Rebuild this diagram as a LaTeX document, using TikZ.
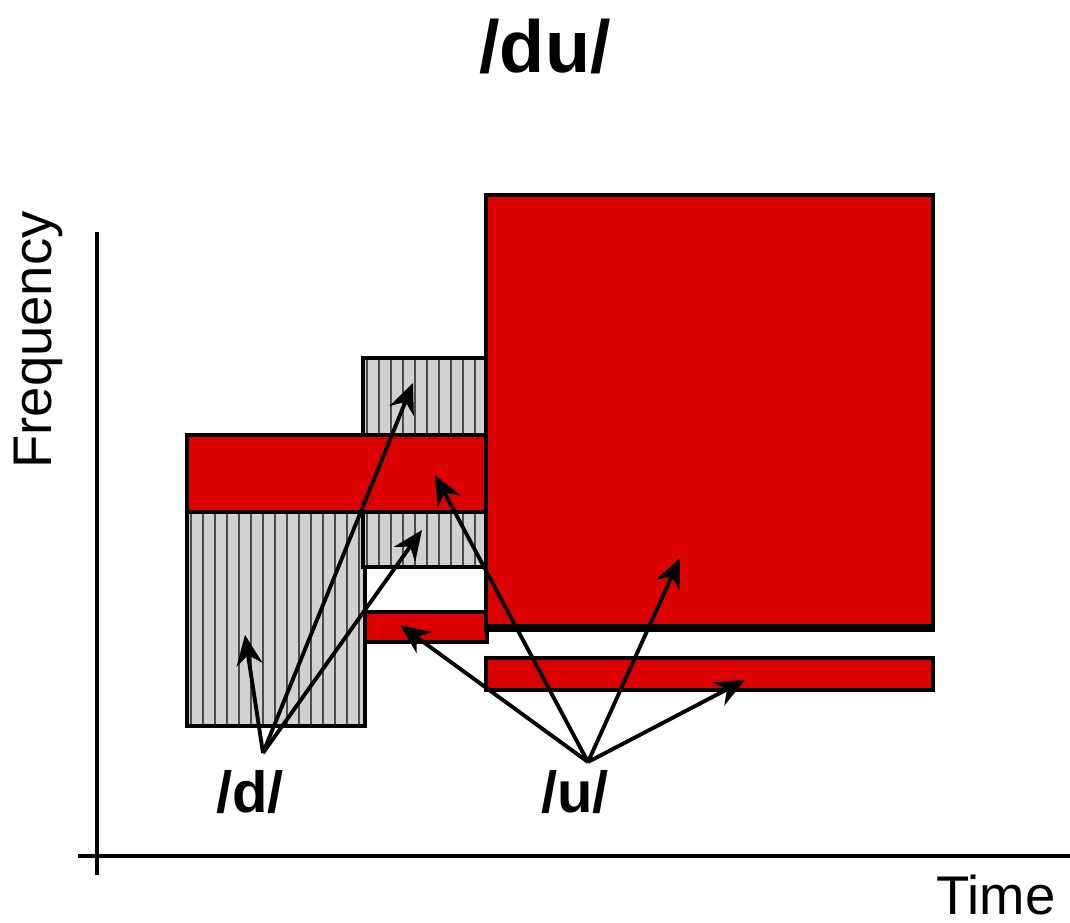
\documentclass[tikz,border=0pt]{standalone}
\usepackage{fontspec}
\setmainfont{Liberation Sans}
\usetikzlibrary{arrows.meta}
\definecolor{vowelred}{RGB}{221,0,0}
\tikzset{
  redbox/.style={draw=black, line width=1.4pt, fill=vowelred},
  hatchbox/.style={draw=black, line width=1.4pt},
  pointer/.style={line width=1.1pt, -{Stealth[length=3mm,width=2.6mm]}},
  axis/.style={line width=1.2pt},
  phon/.style={font=\fontsize{16.5}{18}\selectfont\bfseries}
}
% hatched box: lower left x, y, upper right x, y
\newcommand{\hatchrect}[4]{%
  \begin{scope}
    \clip (#1,#2) rectangle (#3,#4);
    \fill[black!18] (#1,#2) rectangle (#3,#4);
    \pgfmathsetmacro{\hnext}{#1+0.12}
    \foreach \hx in {#1,\hnext,...,#3}
      \draw[black!70, line width=0.7pt] (\hx+0.04,#2) -- (\hx+0.04,#4);
  \end{scope}
  \draw[hatchbox] (#1,#2) rectangle (#3,#4);}
\begin{document}
\begin{tikzpicture}
\useasboundingbox (0,0) rectangle (10.70,9.23);
% axes
\draw[axis] (0.97,6.91) -- (0.97,0.48);
\draw[axis] (0.78,0.67) -- (10.70,0.67);
\node[rotate=90, font=\fontsize{15.5}{17}\selectfont] (freq) at (0.38,5.83) {Frequency};
\node[font=\fontsize{15.5}{17}\selectfont] (time) at (9.96,0.28) {Time};
\node[font=\fontsize{21}{24}\selectfont\bfseries] (title) at (5.45,8.76) {/du/};

% /d/ portions
\hatchrect{1.87}{1.97}{3.65}{4.11}
\hatchrect{3.63}{4.88}{4.86}{5.65}
\hatchrect{3.63}{3.56}{4.86}{4.11}
\draw[line width=1.4pt, fill=white] (3.65,3.11) rectangle (4.86,3.56);

% /u/ portions
\draw[redbox] (1.87,4.11) rectangle (4.86,4.88);
\draw[redbox] (3.65,2.81) rectangle (4.87,3.11);
\draw[redbox] (4.86,2.93) rectangle (9.33,7.28);
\draw[line width=2.2pt] (4.86,2.95) -- (9.33,2.95);
\draw[redbox] (4.86,2.33) rectangle (9.33,2.65);

% labels and pointers
\node[phon] (d) at (2.50,1.31) {/d/};
\node[phon] (u) at (5.75,1.31) {/u/};
\coordinate (dfoot) at (2.63,1.70);
\coordinate (ufoot) at (5.88,1.61);
\coordinate (dlow) at (2.45,2.88);
\coordinate (dtop) at (4.13,5.40);
\coordinate (dmid) at (4.22,3.93);
\coordinate (usmall) at (4.00,2.98);
\coordinate (uband) at (4.35,4.48);
\coordinate (ubig) at (6.80,3.65);
\coordinate (ulow) at (7.45,2.43);
\foreach \t in {dlow,dtop,dmid}
  \draw[pointer] (dfoot) -- (\t);
\foreach \t in {usmall,uband,ubig,ulow}
  \draw[pointer] (ufoot) -- (\t);
\end{tikzpicture}
\end{document}
